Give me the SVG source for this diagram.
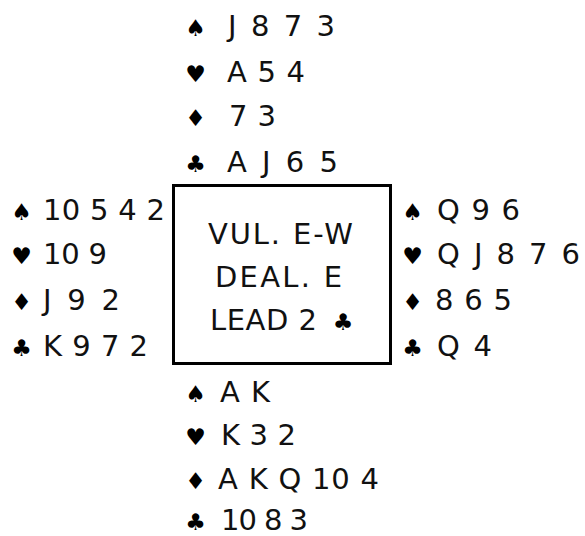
<svg xmlns="http://www.w3.org/2000/svg" width="585" height="536" viewBox="0 0 585 536">
<style>
.t{font-family:"DejaVu Sans","Liberation Sans",sans-serif;font-size:29px;fill:#111}
.s{font-family:"DejaVu Sans","Liberation Sans",sans-serif;font-size:23px;fill:#000;text-anchor:middle}
.box{fill:#fff;stroke:#000;stroke-width:3}
</style>
<rect width="585" height="536" fill="#fff"/>
<g id="north">
<text class="s" x="195.5" y="36">♠</text><text class="t" x="228" y="36" textLength="107" lengthAdjust="spacing">J 8 7 3</text>
<text class="s" x="195.5" y="82">♥</text><text class="t" x="227" y="82" textLength="78" lengthAdjust="spacing">A 5 4</text>
<text class="s" x="195.5" y="126">♦</text><text class="t" x="229" y="126" textLength="47" lengthAdjust="spacing">7 3</text>
<text class="s" x="195.5" y="172">♣</text><text class="t" x="227" y="172" textLength="111" lengthAdjust="spacing">A J 6 5</text>
</g>
<g id="west">
<text class="s" x="21.5" y="220">♠</text><text class="t" x="43" y="220" textLength="122" lengthAdjust="spacing">10 5 4 2</text>
<text class="s" x="21.5" y="264">♥</text><text class="t" x="43" y="264" textLength="64" lengthAdjust="spacing">10 9</text>
<text class="s" x="21.5" y="310">♦</text><text class="t" x="43" y="310" textLength="77" lengthAdjust="spacing">J 9 2</text>
<text class="s" x="21.5" y="356">♣</text><text class="t" x="43" y="356" textLength="105" lengthAdjust="spacing">K 9 7 2</text>
</g>
<g id="east">
<text class="s" x="412.5" y="220">♠</text><text class="t" x="437" y="220" textLength="83" lengthAdjust="spacing">Q 9 6</text>
<text class="s" x="412.5" y="264">♥</text><text class="t" x="437" y="264" textLength="143" lengthAdjust="spacing">Q J 8 7 6</text>
<text class="s" x="412.5" y="310">♦</text><text class="t" x="435" y="310" textLength="77" lengthAdjust="spacing">8 6 5</text>
<text class="s" x="412.5" y="356">♣</text><text class="t" x="437" y="356" textLength="55" lengthAdjust="spacing">Q 4</text>
</g>
<g id="south">
<text class="s" x="195.5" y="402">♠</text><text class="t" x="220" y="402" textLength="50" lengthAdjust="spacing">A K</text>
<text class="s" x="195.5" y="445">♥</text><text class="t" x="221" y="445" textLength="75" lengthAdjust="spacing">K 3 2</text>
<text class="s" x="195.5" y="489">♦</text><text class="t" x="218" y="489" textLength="161" lengthAdjust="spacing">A K Q 10 4</text>
<text class="s" x="195.5" y="530">♣</text><text class="t" x="221" y="530" textLength="87" lengthAdjust="spacing">10 8 3</text>
</g>
<g id="info">
<rect class="box" x="173.5" y="185.5" width="217" height="178"/>
<text class="t" x="208" y="244" textLength="145" lengthAdjust="spacing">VUL. E-W</text>
<text class="t" x="215" y="287" textLength="127" lengthAdjust="spacing">DEAL. E</text>
<text class="t" x="210" y="330" textLength="107" lengthAdjust="spacing">LEAD 2</text>
<text class="s" x="343" y="330">♣</text>
</g>
</svg>
